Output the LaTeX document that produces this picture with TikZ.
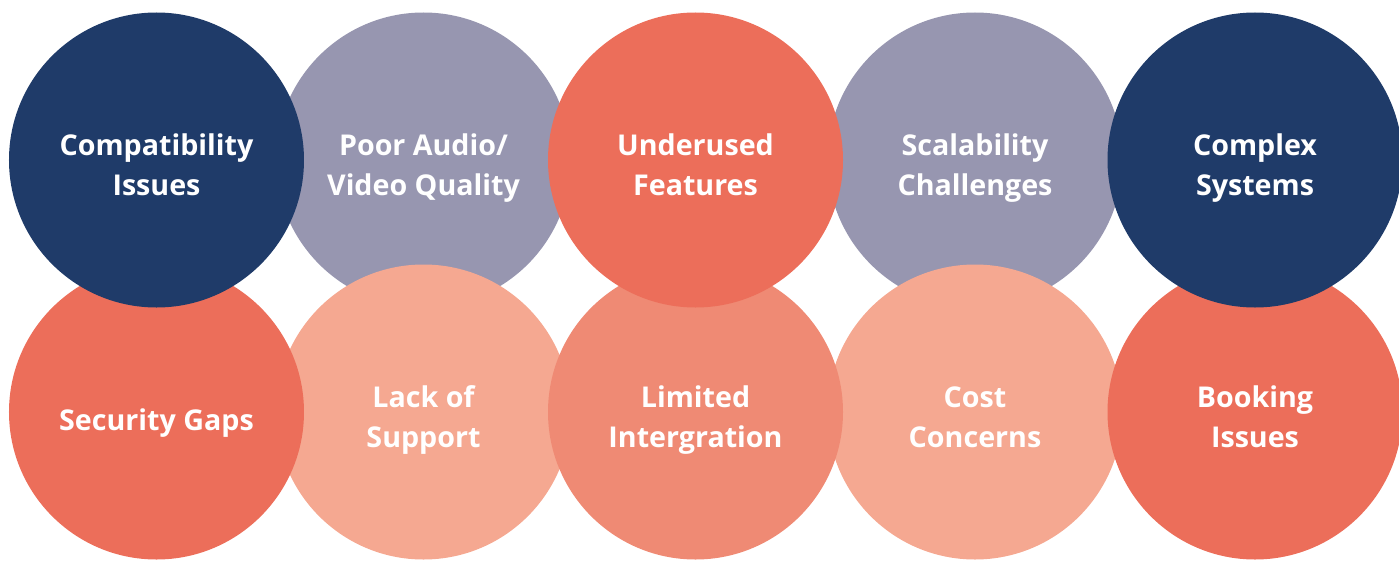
\documentclass[tikz,border=0pt]{standalone}
\usepackage{fontspec}
\setmainfont{Open Sans}
\usepackage{xcolor}
\usepackage{tikz}
\usetikzlibrary{positioning}

\definecolor{navyblue}{HTML}{1F3B69}
\definecolor{slategrey}{HTML}{9796B0}
\definecolor{coral}{HTML}{EC6E5A}
\definecolor{midsalmon}{HTML}{EF8A74}
\definecolor{lightsalmon}{HTML}{F5A891}

\begin{document}
\begin{tikzpicture}[
        node distance=5.04cm,
        % Circle styles
        bubble/.style={circle, minimum size=5.9cm, inner sep=0pt, align=center,
                       text=white, font=\fontsize{16.3}{22.8}\selectfont\bfseries,
                       text height=40pt, text depth=0pt},
        navybubble/.style={bubble, fill=navyblue},
        greybubble/.style={bubble, fill=slategrey},
        coralbubble/.style={bubble, fill=coral},
        midbubble/.style={bubble, fill=midsalmon},
        lightbubble/.style={bubble, fill=lightsalmon}
    ]
        \useasboundingbox (-8.47,3.2) rectangle (19.51,-8.0);

        % Back layer: grey circles of the top row
        \node[greybubble] (audio) {Poor Audio/\\Video Quality};
        \node[greybubble, right of=audio, xshift=5.99cm] (scalability) {Scalability\\Challenges};

        % Bottom row
        \node[lightbubble, below of=audio] (support) {Lack of\\Support};
        \node[lightbubble, below of=scalability] (cost) {Cost\\Concerns};
        \node[midbubble, right of=support, xshift=0.4cm] (integration) {Limited\\Intergration};
        \node[coralbubble, left of=support, xshift=-0.3cm, text height=21pt] (security) {Security Gaps};
        \node[coralbubble, right of=cost, xshift=0.56cm] (booking) {Booking\\Issues};

        % Front layer: top row
        \node[navybubble, above of=security] (compat) {Compatibility\\Issues};
        \node[coralbubble, above of=integration] (underused) {Underused\\Features};
        \node[navybubble, above of=booking] (complex) {Complex\\Systems};
    \end{tikzpicture}
\end{document}
